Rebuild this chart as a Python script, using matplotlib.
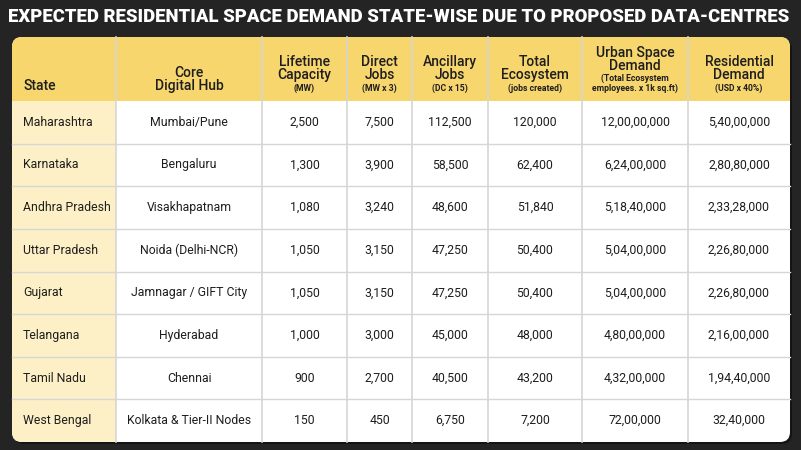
import matplotlib.pyplot as plt
from matplotlib.patches import FancyBboxPatch, Rectangle

'''recreates the state-wise residential space demand table'''

title = "EXPECTED RESIDENTIAL SPACE DEMAND STATE-WISE DUE TO PROPOSED DATA-CENTRES"

header_main = ["State", "Core\nDigital Hub", "Lifetime\nCapacity", "Direct\nJobs",
               "Ancillary\nJobs", "Total\nEcosystem", "Urban Space\nDemand",
               "Residential\nDemand"]
header_sub = ["", "", "(MW)", "(MW x 3)", "(DC x 15)", "(jobs created)",
              "(Total Ecosystem\nemployees. x 1k sq.ft)", "(USD x 40%)"]

states = ["Maharashtra", "Karnataka", "Andhra Pradesh", "Uttar Pradesh", "Gujarat",
          "Telangana", "Tamil Nadu", "West Bengal"]
hubs = ["Mumbai/Pune", "Bengaluru", "Visakhapatnam", "Noida (Delhi-NCR)",
        "Jamnagar / GIFT City", "Hyderabad", "Chennai", "Kolkata & Tier-II Nodes"]
capacity = ["2,500", "1,300", "1,080", "1,050", "1,050", "1,000", "900", "150"]
direct_jobs = ["7,500", "3,900", "3,240", "3,150", "3,150", "3,000", "2,700", "450"]
ancillary_jobs = ["112,500", "58,500", "48,600", "47,250", "47,250", "45,000", "40,500", "6,750"]
total_eco = ["120,000", "62,400", "51,840", "50,400", "50,400", "48,000", "43,200", "7,200"]
urban_space = ["12,00,00,000", "6,24,00,000", "5,18,40,000", "5,04,00,000", "5,04,00,000",
               "4,80,00,000", "4,32,00,000", "72,00,000"]
residential = ["5,40,00,000", "2,80,80,000", "2,33,28,000", "2,26,80,000", "2,26,80,000",
               "2,16,00,000", "1,94,40,000", "32,40,000"]

columns = [states, hubs, capacity, direct_jobs, ancillary_jobs, total_eco, urban_space, residential]

# layout in pixels
col_edges = [12, 116, 262, 347, 412, 488, 582, 688, 790]
top, head_bot, bottom = 37, 101, 442
row_h = (bottom - head_bot) / len(states)

bg = "#242424"
yellow = "#F7D66E"
pale = "#FDF0C6"
grid = "#D6D6D6"
ink = "#1E1E1E"
font = "Roboto"

fig = plt.figure(figsize=(8.01, 4.5), dpi=100, facecolor=bg)
ax = fig.add_axes([0, 0, 1, 1])
ax.set_xlim(0, 801)
ax.set_ylim(450, 0)
ax.axis("off")

ax.text(399, 17, title, color="white", fontsize=13.3, fontweight="black",
        family=font, ha="center", va="center")

# rounded table body
w = col_edges[-1] - col_edges[0]
h = bottom - top
shadow = FancyBboxPatch((col_edges[0] + 2, top + 2), w, h, boxstyle="round,pad=0,rounding_size=10",
                        fc="#141414", ec="none", zorder=1)
ax.add_patch(shadow)
body = FancyBboxPatch((col_edges[0], top), w, h, boxstyle="round,pad=0,rounding_size=10",
                      fc="white", ec="none", zorder=2)
ax.add_patch(body)

head = Rectangle((col_edges[0], top), w, head_bot - top, fc=yellow, ec="none", zorder=3)
ax.add_patch(head)
head.set_clip_path(body)
state_col = Rectangle((col_edges[0], head_bot), col_edges[1] - col_edges[0], bottom - head_bot,
                      fc=pale, ec="none", zorder=3)
ax.add_patch(state_col)
state_col.set_clip_path(body)

# grid lines
for x in col_edges[1:-1]:
    ax.plot([x, x], [top, bottom], color=grid, lw=1.2, zorder=4)
for i in range(1, len(states)):
    y = head_bot + i * row_h
    ax.plot([col_edges[0], col_edges[-1]], [y, y], color=grid, lw=1.0, zorder=4)

# header texts
for j, (main, sub) in enumerate(zip(header_main, header_sub)):
    cx = (col_edges[j] + col_edges[j + 1]) / 2
    n_sub = sub.count("\n") + 1 if sub else 0
    y = 93
    if sub:
        ax.text(cx, y, sub, fontsize=6.2, fontweight="bold", family=font, color=ink,
                ha="center", va="bottom", linespacing=1.1, zorder=5)
        y -= 9.5 * n_sub + 1.5
    if j == 0:
        ax.text(col_edges[0] + 11, y, main, fontsize=10, fontweight="medium", family=font,
                color=ink, ha="left", va="bottom", zorder=5)
    else:
        ax.text(cx, y, main, fontsize=10, fontweight="medium", family=font, color=ink,
                ha="center", va="bottom", linespacing=0.9, zorder=5)

# body texts
for j, col in enumerate(columns):
    cx = (col_edges[j] + col_edges[j + 1]) / 2
    for i, val in enumerate(col):
        cy = head_bot + (i + 0.5) * row_h
        if j == 0:
            ax.text(col_edges[0] + 11, cy, val, fontsize=8.8, family=font, color=ink,
                    ha="left", va="center", zorder=5)
        else:
            ax.text(cx, cy, val, fontsize=8.8, family=font, color=ink,
                    ha="center", va="center", zorder=5)

plt.savefig("out.png", dpi=100, facecolor=bg)
